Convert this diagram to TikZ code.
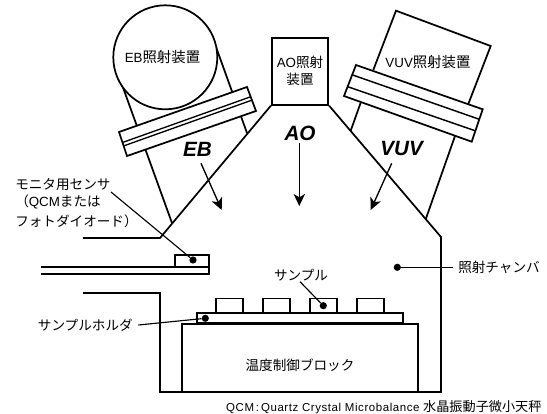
\documentclass[tikz,border=0pt]{standalone}
\usepackage{fontspec}
\setmainfont{Liberation Sans}
\newfontfamily\cjk{Noto Sans CJK JP}
\usetikzlibrary{arrows.meta}
\newcommand{\fs}[1]{\fontsize{#1}{#1}\selectfont}
\newcommand{\jt}[1]{{\cjk\fs{10.2pt}#1}}
\newcommand{\jw}[1]{{\cjk\fs{10.8pt}#1}}
\tikzset{
  wall/.style={line width=1.3pt,line join=miter},
  part/.style={wall,fill=white},
  leader/.style={line width=0.85pt},
  flow/.style={line width=1pt,-{Stealth[length=9pt,width=8.5pt,inset=2.5pt]}},
  dot/.style={circle,fill=black,inner sep=0pt,minimum size=5.4pt},
  jp/.style={inner sep=0pt,font=\cjk\fs{10.2pt},align=center},
  mixed/.style={inner sep=0pt,font=\fs{10pt},align=center},
  beam/.style={inner sep=0pt,font=\bfseries\itshape\fs{15.5pt}}
}
\begin{document}
\begin{tikzpicture}[x=0.75pt,y=-0.75pt]
\useasboundingbox[fill=white] (0,0) rectangle (547,414);
% EB housing tube
\draw[wall] (121,82) -- (172,223);
\draw[wall] (216,47) -- (247,133);
\node[circle,draw,wall,fill=white,minimum size=78pt,inner sep=0pt] (ebc) at (165.3,57.3) {};
% EB flange
\draw[part] (119,132) -- (247,87) -- (256,111) -- (127,156) -- cycle;
\draw[line width=1pt] (122.5,142.5) -- (250,97);
\draw[line width=1pt] (124,145.8) -- (251.5,100.3);
% VUV housing
\draw[wall] (360.7,102.7) -- (350.7,130.7);
\draw[wall] (455,136) -- (425.7,219.3);
\draw[part] (373.3,70) -- (396,10.7) -- (490.7,46) -- (468.3,104);
\draw[part] (356,65) -- (482.7,109.3) -- (471.7,141.7) -- (344,96) -- cycle;
\draw[line width=1.1pt] (352.7,75) -- (479.3,119.3);
\draw[line width=1.1pt] (347.7,86.7) -- (475,130.7);
% AO box
\node[draw,wall,fill=white,minimum width=42.4pt,minimum height=50pt,inner sep=0pt] (aobox) at (300,71.5) {};
% chamber
\draw[wall] (83,238) -- (160,238) -- (aobox.south west) (aobox.south east) -- (441,237) -- (441,392) -- (160,392) -- (160,293) -- (83,293);
% sensor arm
\draw[wall] (41,266.7) -- (209,266.7) -- (209,274) -- (41,274);
\draw[wall] (175,266.7) -- (175,255) -- (209,255) -- (209,266.7);
% block and holder
\node[draw,wall,fill=white,inner sep=0pt,minimum width=177.2pt,minimum height=50.8pt] (block) at (300,358.2) {};
\node[draw,wall,fill=white,inner sep=0pt,minimum width=154.7pt,minimum height=7pt] (holder) at (300,318) {};
\foreach \n/\c in {s1/229.5,s2/276.5,s3/323.3,s4/370.5}
  \node[draw,wall,fill=white,inner sep=0pt,minimum width=20pt,minimum height=11pt] (\n) at (\c,305.7) {};
% beams
\node[beam] (ebl) at (197.5,149.5) {EB};
\node[beam] (aol) at (300,133) {AO};
\node[beam] (vuvl) at (401.7,148) {VUV};
\coordinate (ebs) at (201,163.3); \coordinate (ebe) at (221.7,210);
\coordinate (aos) at (299.3,143); \coordinate (aoe) at (299.3,206);
\coordinate (vus) at (391.7,163.3); \coordinate (vue) at (370.7,210);
\draw[flow] (ebs) -- (ebe);
\draw[flow] (aos) -- (aoe);
\draw[flow] (vus) -- (vue);
% labels
\node[mixed] (ebt) at (162.5,57) {EB\jw{照射装置}};
\node[mixed] (aot) at (300,71) {AO\jt{照射}\\[3.2pt]\jt{装置}};
\node[mixed] (vut) at (428,62) {VUV\jw{照射装置}};
\node[mixed,anchor=west,align=left] (mon) at (15,203) {\jt{モニタ用センサ}\\[3pt]\jt{（}QCM\jt{または}\\[3pt]\jt{フォトダイオード）}};
\node[jp] (samp) at (301,275) {サンプル};
\node[jp,anchor=east] (hold) at (133,325) {サンプルホルダ};
\node[jp,anchor=west] (cham) at (458,267.3) {照射チャンバ};
\node[jp] (temp) at (300,365) {温度制御ブロック};
\node[mixed,anchor=east,font=\fs{8.6pt}\addfontfeature{LetterSpace=5}] (qcm) at (541.7,406.7) {QCM\,:\,Quartz Crystal Microbalance {\cjk\fs{9.85pt}水晶振動子微小天秤}};
% leaders
\node[dot] (d1) at (193,260) {};
\node[dot] (d2) at (205.3,318.3) {};
\node[dot] (d3) at (323.3,305.7) {};
\node[dot] (d4) at (397.3,267.3) {};
\coordinate (l1) at (111,192);
\coordinate (l2) at (138.3,325);
\coordinate (l3) at (300,281.7);
\coordinate (l4) at (453,267.3);
\draw[leader] (l1) -- (d1);
\draw[leader] (l2) -- (d2);
\draw[leader] (l3) -- (d3);
\draw[leader] (d4) -- (l4);
\end{tikzpicture}
\end{document}
